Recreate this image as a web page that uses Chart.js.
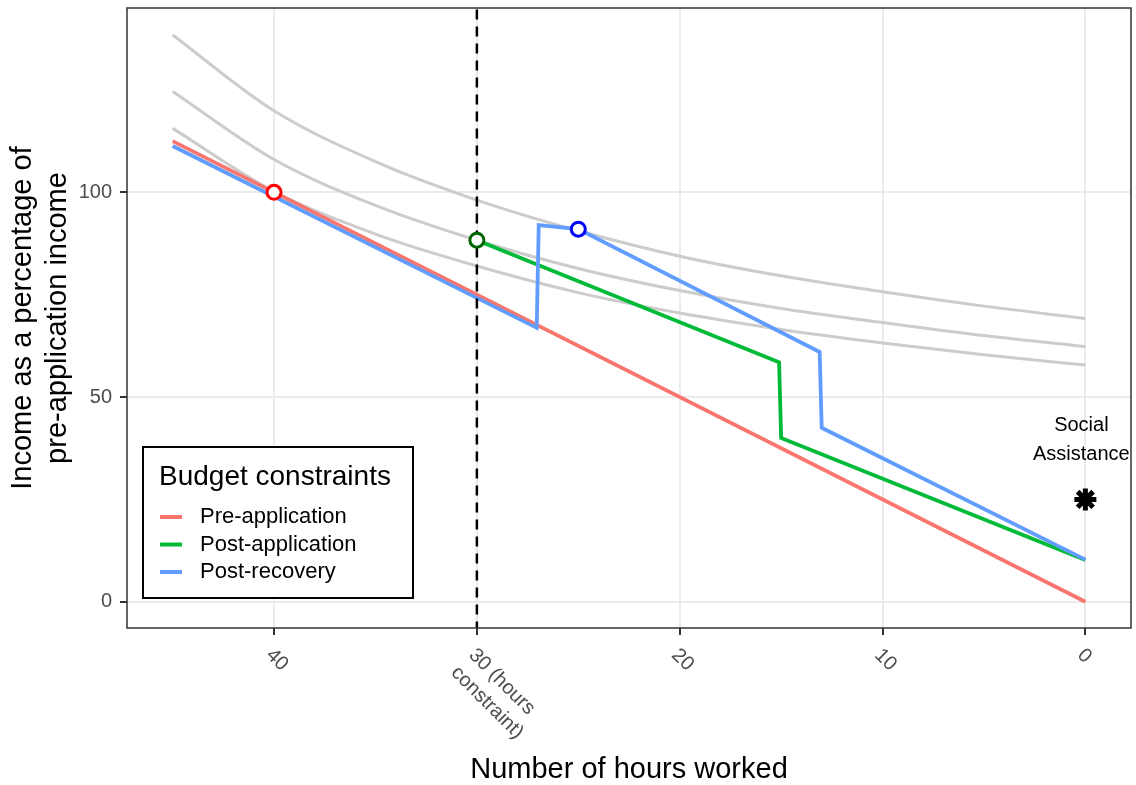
<!DOCTYPE html>
<html lang="en">
<head>
<meta charset="UTF-8">
<title>Budget constraints</title>
<script src="https://cdn.jsdelivr.net/npm/chart.js@4.4.1/dist/chart.umd.min.js"></script>
<style>
    html, body { margin: 0; padding: 0; background: #ffffff; }
    #wrap { width: 1136px; height: 785px; position: relative; }
</style>
</head>
<body>
<div id="wrap"><canvas id="budgetChart"></canvas></div>
<script>
// --- DATA ---
const hoursRange = [-2.25, 47.25];
const incomeRange = [-6.4, 145];
const xTickValues = [0, 10, 20, 30, 40];
const xTickLabels = ['0', '10', '20', ['30 (hours', 'constraint)'], '40'];
const yTickValues = [0, 50, 100];

const seriesNames = ['Pre-application', 'Post-application', 'Post-recovery'];
const seriesColors = ['#F8766D', '#00BA38', '#619CFF'];

const preHours = [45, 0];
const preIncome = [112.5, 0];
const postAppHours = [30, 15.1, 15, 0];
const postAppIncome = [88.3, 58.5, 40, 10.2];
const recoveryHours = [45, 27.05, 26.95, 25, 13.1, 13, 0];
const recoveryIncome = [111.3, 66.9, 92, 91, 61, 42.5, 10.3];

// indifference curves (grey)
const curveHours = [45, 40, 35, 30, 25, 20, 15, 10, 5, 0];
const curveHigh = [138.4, 119.9, 107.5, 98.1, 90.6, 84.4, 79.6, 75.7, 72.2, 69.2];
const curveMid = [124.6, 108.0, 96.8, 88.3, 81.4, 76.0, 71.6, 68.2, 65.0, 62.3];
const curveLow = [115.6, 100.2, 89.8, 82.0, 75.5, 70.5, 66.5, 63.2, 60.3, 57.8];

const constraintHours = 30;
const optimumHours = [40, 30, 25];
const optimumIncome = [100, 88.3, 91];
const optimumColors = ['#ff0000', '#006400', '#0000ff'];
const assistHours = [0];
const assistIncome = [25];
const assistLabel = ['Social', 'Assistance'];

const xTitle = 'Number of hours worked';
const yTitle = ['Income as a percentage of', 'pre-application income'];
const legendTitle = 'Budget constraints';

document.addEventListener('DOMContentLoaded', () => {

    const FONT = '"Liberation Sans", Arial, sans-serif';
    const toPoints = (xs, ys) => xs.map((x, i) => ({ x: x, y: ys[i] }));

    // --- EXTRA DRAWING: panel border, rotated x labels, titles, legend ---
    const decorations = {
        id: 'decorations',
        afterDraw(chart) {
            const ctx = chart.ctx;
            const area = chart.chartArea;
            const xs = chart.scales.x;
            const ys = chart.scales.y;

            ctx.save();
            ctx.strokeStyle = '#333333';
            ctx.lineWidth = 1.5;
            ctx.strokeRect(area.left, area.top, area.right - area.left, area.bottom - area.top);

            // x tick labels, rotated clockwise
            ctx.font = '20px ' + FONT;
            ctx.fillStyle = '#4d4d4d';
            ctx.textAlign = 'left';
            ctx.textBaseline = 'middle';
            xTickValues.forEach((v, i) => {
                const lines = [].concat(xTickLabels[i]);
                ctx.save();
                ctx.translate(xs.getPixelForValue(v) - 5, area.bottom + 24);
                ctx.rotate(Math.PI / 4);
                lines.forEach((line, j) => ctx.fillText(line, 0, j * 25));
                ctx.restore();
            });

            // axis titles
            ctx.fillStyle = '#000000';
            ctx.font = '29px ' + FONT;
            ctx.textAlign = 'center';
            ctx.textBaseline = 'alphabetic';
            ctx.fillText(xTitle, (area.left + area.right) / 2, 778);

            ctx.save();
            ctx.translate(0, (area.top + area.bottom) / 2);
            ctx.rotate(-Math.PI / 2);
            ctx.textBaseline = 'middle';
            yTitle.forEach((line, j) => ctx.fillText(line, 0, 23 + j * 35));
            ctx.restore();

            // annotation next to the star
            ctx.font = '20px ' + FONT;
            ctx.textBaseline = 'middle';
            const ax = xs.getPixelForValue(assistHours[0]) - 4;
            const ay = ys.getPixelForValue(assistIncome[0]);
            ctx.fillText(assistLabel[0], ax, ay - 74);
            ctx.fillText(assistLabel[1], ax, ay - 45);

            // legend box
            const box = { left: 143, top: 447, width: 270, height: 151 };
            ctx.fillStyle = '#ffffff';
            ctx.fillRect(box.left, box.top, box.width, box.height);
            ctx.strokeStyle = '#000000';
            ctx.lineWidth = 2;
            ctx.strokeRect(box.left, box.top, box.width, box.height);

            ctx.fillStyle = '#000000';
            ctx.textAlign = 'left';
            ctx.textBaseline = 'alphabetic';
            ctx.font = '28px ' + FONT;
            ctx.fillText(legendTitle, box.left + 16, box.top + 38);

            ctx.font = '22px ' + FONT;
            ctx.textBaseline = 'middle';
            seriesNames.forEach((name, i) => {
                const rowY = box.top + 70 + i * 27.5;
                ctx.strokeStyle = seriesColors[i];
                ctx.lineWidth = 4;
                ctx.beginPath();
                ctx.moveTo(box.left + 17, rowY);
                ctx.lineTo(box.left + 39, rowY);
                ctx.stroke();
                ctx.fillText(name, box.left + 57, rowY);
            });
            ctx.restore();
        }
    };

    const greyCurve = (values) => ({
        data: toPoints(curveHours, values),
        borderColor: '#cccccc',
        borderWidth: 3,
        pointRadius: 0,
        cubicInterpolationMode: 'monotone',
        order: 6
    });

    const budgetLine = (hours, income, i) => ({
        label: seriesNames[i],
        data: toPoints(hours, income),
        borderColor: seriesColors[i],
        borderWidth: 3.8,
        pointRadius: 0,
        tension: 0,
        order: 5 - i
    });

    const gridStyle = {
        color: '#ebebeb',
        lineWidth: 2,
        tickColor: '#333333',
        tickWidth: 2,
        tickLength: 7,
        drawTicks: true
    };

    new Chart(document.getElementById('budgetChart'), {
        type: 'line',
        data: {
            datasets: [
                greyCurve(curveHigh),
                greyCurve(curveMid),
                greyCurve(curveLow),
                budgetLine(preHours, preIncome, 0),
                budgetLine(postAppHours, postAppIncome, 1),
                budgetLine(recoveryHours, recoveryIncome, 2),
                {
                    data: [{ x: constraintHours, y: incomeRange[0] - 5 }, { x: constraintHours, y: incomeRange[1] + 5 }],
                    borderColor: '#000000',
                    borderWidth: 2.5,
                    borderDash: [10, 7],
                    pointRadius: 0,
                    order: 1
                },
                {
                    data: toPoints(optimumHours, optimumIncome),
                    showLine: false,
                    pointRadius: 7,
                    pointBorderWidth: 3,
                    pointBorderColor: optimumColors,
                    pointBackgroundColor: '#ffffff',
                    order: 0
                },
                {
                    data: toPoints(assistHours, assistIncome),
                    showLine: false,
                    pointStyle: 'star',
                    pointRadius: 11,
                    pointBorderWidth: 5,
                    pointBorderColor: '#000000',
                    order: 0
                }
            ]
        },
        options: {
            responsive: true,
            maintainAspectRatio: false,
            animation: false,
            events: [],
            layout: { autoPadding: false, padding: { left: 0, top: 8, right: 5, bottom: 0 } },
            plugins: {
                legend: { display: false },
                tooltip: { enabled: false }
            },
            scales: {
                x: {
                    type: 'linear',
                    reverse: true,
                    min: hoursRange[0],
                    max: hoursRange[1],
                    afterBuildTicks: (s) => { s.ticks = xTickValues.map(v => ({ value: v })); },
                    afterFit: (s) => { s.height = 157; s.paddingLeft = 0; s.paddingRight = 0; },
                    ticks: { callback: () => '' },
                    grid: gridStyle,
                    border: { display: false }
                },
                y: {
                    type: 'linear',
                    min: incomeRange[0],
                    max: incomeRange[1],
                    afterBuildTicks: (s) => { s.ticks = yTickValues.map(v => ({ value: v })); },
                    afterFit: (s) => { s.width = 127; s.paddingTop = 0; s.paddingBottom = 0; },
                    ticks: {
                        font: { family: FONT, size: 20 },
                        color: '#4d4d4d',
                        padding: 8
                    },
                    grid: gridStyle,
                    border: { display: false }
                }
            }
        },
        plugins: [decorations]
    });
});
</script>
</body>
</html>
